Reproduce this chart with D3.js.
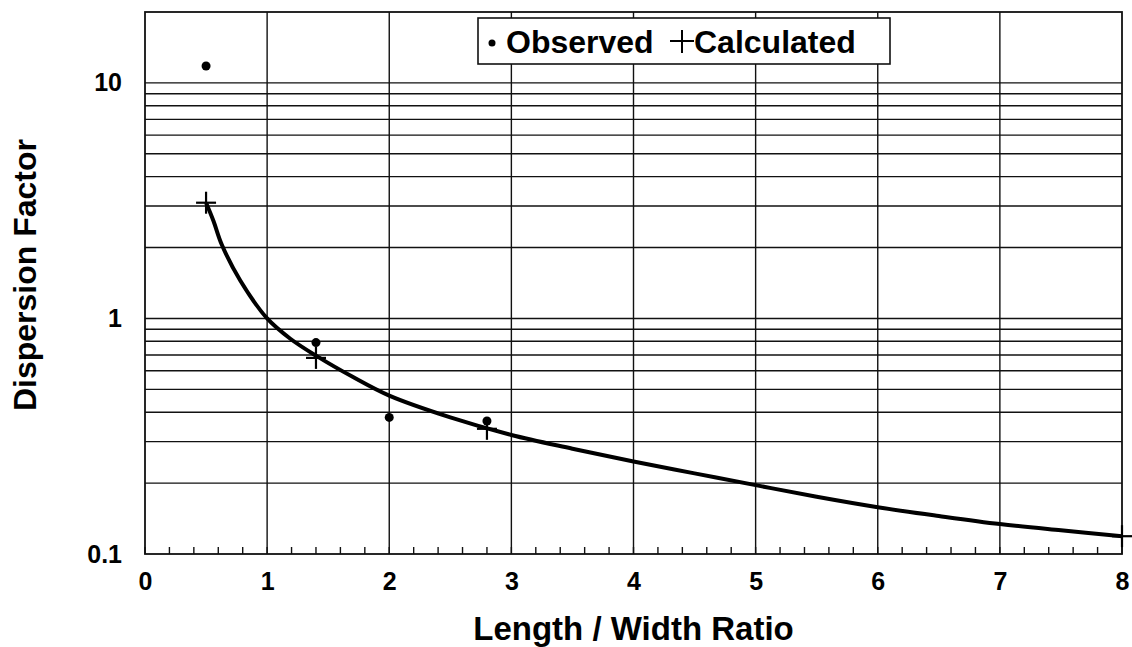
<!DOCTYPE html>
<html>
<head>
<meta charset="utf-8">
<script src="https://cdn.jsdelivr.net/npm/d3@7"></script>
<style>
  body { margin: 0; background: #fff; }
  text { font-family: "Liberation Sans", Arial, sans-serif; font-weight: bold; fill: #000; }
</style>
</head>
<body>
<div id="chart"></div>
<script>
// data
var obsX = [0.5, 1.4, 2.0, 2.8];
var obsY = [11.8, 0.79, 0.38, 0.367];

var calcX = [0.5, 1.4, 2.8, 8.0];
var calcY = [3.1, 0.68, 0.34, 0.119];

// calculated curve
var curveX = [0.5, 0.56, 0.63, 0.78, 1.0, 1.19, 1.41, 1.7, 2.0, 2.5, 3.0, 3.5, 4.0, 4.5, 5.0, 5.5, 6.0, 6.5, 7.0, 7.5, 8.0];
var curveY = [3.1, 2.6, 2.05, 1.45, 1.0, 0.82, 0.69, 0.565, 0.47, 0.38, 0.32, 0.28, 0.247, 0.22, 0.196, 0.175, 0.158, 0.145, 0.134, 0.126, 0.119];

var xTickLabels = ["0", "1", "2", "3", "4", "5", "6", "7", "8"];
var yTickValues = [0.1, 1, 10];
var yTickLabels = ["0.1", "1", "10"];

var svgWidth = 1132;
var svgHeight = 647;

var svg = d3.select("#chart")
  .append("svg")
  .attr("width", svgWidth)
  .attr("height", svgHeight);

svg.append("rect").attr("width", svgWidth).attr("height", svgHeight).attr("fill", "#fff");

var x = d3.scaleLinear().domain([0, 8]).range([145, 1122]);
var y = d3.scaleLog().domain([0.1, 20]).range([554, 12]);

// horizontal gridlines (1..9 of each decade)
var gridY = y.ticks().filter(d => d > 0.1 && d < 20);
svg.append("g")
  .selectAll("line")
  .data(gridY)
  .enter()
  .append("line")
  .attr("x1", x(0))
  .attr("x2", x(8))
  .attr("y1", d => y(d))
  .attr("y2", d => y(d))
  .attr("stroke", "#111")
  .attr("stroke-width", 1.4);

// vertical gridlines
svg.append("g")
  .selectAll("line")
  .data(d3.range(1, 8))
  .enter()
  .append("line")
  .attr("x1", d => x(d))
  .attr("x2", d => x(d))
  .attr("y1", y(20))
  .attr("y2", y(0.1))
  .attr("stroke", "#111")
  .attr("stroke-width", 1.4);

// minor ticks on x axis
svg.append("g")
  .selectAll("line")
  .data(x.ticks(40))
  .enter()
  .append("line")
  .attr("x1", d => x(d))
  .attr("x2", d => x(d))
  .attr("y1", y(0.1))
  .attr("y2", y(0.1) - 7)
  .attr("stroke", "#111")
  .attr("stroke-width", 1.4);

// frame
svg.append("rect")
  .attr("x", x(0))
  .attr("y", y(20))
  .attr("width", x(8) - x(0))
  .attr("height", y(0.1) - y(20))
  .attr("fill", "none")
  .attr("stroke", "#111")
  .attr("stroke-width", 1.8);

// axes (labels only)
var xAxis = d3.axisBottom(x).ticks(8).tickFormat((d, i) => xTickLabels[i]).tickSize(0).tickPadding(18);
var yAxis = d3.axisLeft(y).tickValues(yTickValues).tickFormat((d, i) => yTickLabels[i]).tickSize(0).tickPadding(23);

var gx = svg.append("g").attr("transform", `translate(0, ${y(0.1)})`).call(xAxis);
var gy = svg.append("g").attr("transform", `translate(${x(0)}, 0)`).call(yAxis);
[gx, gy].forEach(function(g) {
  g.select(".domain").remove();
  g.attr("font-size", 24).attr("font-family", null);
  g.selectAll("text")
    .style("font-size", "25px")
    .attr("fill", "#000");
});

// calculated curve
var line = d3.line()
  .x(d => x(d[0]))
  .y(d => y(d[1]))
  .curve(d3.curveCatmullRom);

svg.append("path")
  .datum(curveX.map((d, i) => [d, curveY[i]]))
  .attr("d", line)
  .attr("fill", "none")
  .attr("stroke", "#000")
  .attr("stroke-width", 4);

// calculated markers
var calc = svg.append("g")
  .selectAll("g")
  .data(calcX.map((d, i) => [d, calcY[i]]))
  .enter()
  .append("g")
  .attr("transform", d => `translate(${x(d[0])}, ${y(d[1])})`);
calc.append("line").attr("x1", -10).attr("x2", 10).attr("stroke", "#000").attr("stroke-width", 2.2);
calc.append("line").attr("y1", -11).attr("y2", 11).attr("stroke", "#000").attr("stroke-width", 2.2);

// observed markers
svg.append("g")
  .selectAll("circle")
  .data(obsX.map((d, i) => [d, obsY[i]]))
  .enter()
  .append("circle")
  .attr("cx", d => x(d[0]))
  .attr("cy", d => y(d[1]))
  .attr("r", 4.5)
  .attr("fill", "#000");

// legend
var legend = svg.append("g");
legend.append("rect")
  .attr("x", 478).attr("y", 18)
  .attr("width", 412).attr("height", 46)
  .attr("fill", "#fff")
  .attr("stroke", "#111")
  .attr("stroke-width", 1.6);
legend.append("circle").attr("cx", 492).attr("cy", 43).attr("r", 3.5).attr("fill", "#000");
legend.append("text").attr("x", 506).attr("y", 53).attr("font-size", 32).text("Observed");
legend.append("line").attr("x1", 670).attr("x2", 694).attr("y1", 41).attr("y2", 41).attr("stroke", "#000").attr("stroke-width", 2);
legend.append("line").attr("x1", 682).attr("x2", 682).attr("y1", 30).attr("y2", 53).attr("stroke", "#000").attr("stroke-width", 2);
legend.append("text").attr("x", 694).attr("y", 53).attr("font-size", 32).text("Calculated");

// axis titles
svg.append("text")
  .attr("transform", `translate(${(x(0) + x(8)) / 2}, 640)`)
  .attr("text-anchor", "middle")
  .attr("font-size", 33)
  .text("Length / Width Ratio");

svg.append("text")
  .attr("transform", `translate(36, 275) rotate(-90)`)
  .attr("text-anchor", "middle")
  .attr("font-size", 32)
  .text("Dispersion Factor");
</script>
</body>
</html>
